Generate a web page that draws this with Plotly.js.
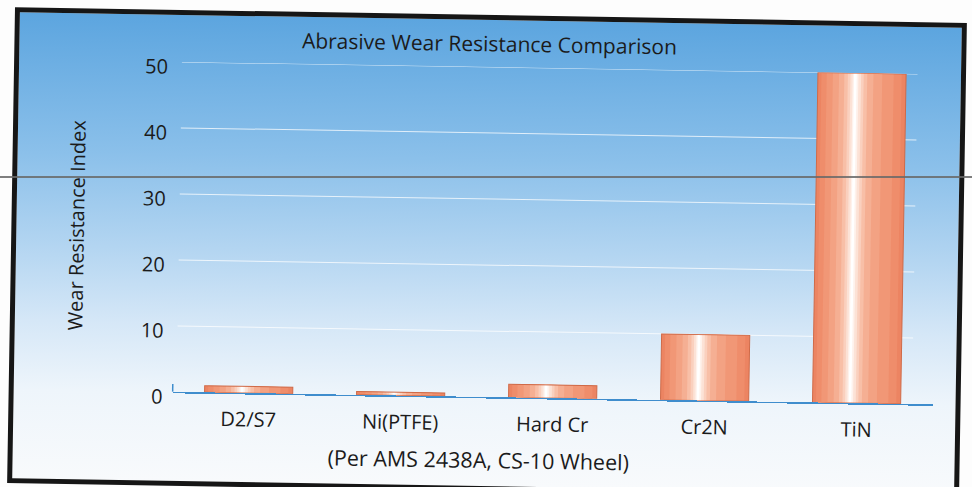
<!DOCTYPE html>
<html>
<head>
<meta charset="utf-8">
<script src="https://cdn.plot.ly/plotly-3.0.1.min.js"></script>
<style>
  html, body { margin:0; padding:0; background:#fdfdfd; width:972px; height:487px; overflow:hidden; }
  #wrap { position:absolute; left:0; top:0; width:972px; height:487px;
          transform-origin:487px 253px; transform:rotate(0.95deg); }
  #frame { position:absolute; left:11px; top:15px; width:952px; height:476px; box-sizing:border-box;
           border:5px solid #161616;
           background:linear-gradient(to bottom, #5CA5DF 0%, #8BC0EA 30%, #B3D5F1 50%, #D5E7F7 66%, #EEF5FB 81%, #F8FAFC 100%); }
  #chart { position:absolute; left:0; top:0; width:972px; height:487px; }
  #scan { position:absolute; left:0; top:176px; width:972px; height:2px; background:rgba(105,105,105,0.85); }
</style>
</head>
<body>
<div id="wrap">
  <div id="frame"></div>
  <div id="chart"></div>
</div>
<div id="scan"></div>
<script>
// ---- data ----
const categories = ['D2/S7', 'Ni(PTFE)', 'Hard Cr', 'Cr2N', 'TiN'];
const wearIndex = [1, 0.5, 2, 10, 50];
const yTickValues = [0, 10, 20, 30, 40, 50];
const chartTitle = 'Abrasive Wear Resistance Comparison';
const yTitle = 'Wear Resistance Index';
const xNote = '(Per AMS 2438A, CS-10 Wheel)';

// ---- cylinder-like shading built from overlaid bars ----
const barWidth = 0.58;
const shadeLayers = [
  [0.00, 1.00, '#EC8462'],
  [0.04, 0.95, '#EF8D6B'],
  [0.10, 0.86, '#F19776'],
  [0.17, 0.73, '#F3A283'],
  [0.24, 0.63, '#F5AF93'],
  [0.30, 0.56, '#F8BFA7'],
  [0.34, 0.52, '#FAD0BE'],
  [0.37, 0.49, '#FCE2D6'],
  [0.395, 0.46, '#FEF2EC'],
  [0.41, 0.44, '#FFFFFF']
];
const traces = shadeLayers.map(function (l) {
  return {
    type: 'bar', x: categories, y: wearIndex,
    width: (l[1] - l[0]) * barWidth,
    offset: -barWidth / 2 + l[0] * barWidth,
    marker: { color: l[2], line: { width: 0 } },
    hoverinfo: 'skip', showlegend: false
  };
});
traces.push({
  type: 'bar', x: categories, y: wearIndex, width: barWidth, offset: -barWidth / 2,
  marker: { color: 'rgba(0,0,0,0)', line: { color: '#CF6A48', width: 1 } },
  hoverinfo: 'skip', showlegend: false
});

const axisBlue = '#3F8DCD';
const shapes = yTickValues.filter(function (v) { return v > 0; }).map(function (v) {
  return { type: 'line', xref: 'paper', x0: 0.005, x1: 0.973, yref: 'y', y0: v, y1: v,
           line: { color: 'rgba(255,255,255,0.75)', width: 1 }, layer: 'below' };
});
shapes.push({ type: 'line', xref: 'paper', x0: 0, x1: 0, yref: 'y', y0: 0, y1: 1.2,
              line: { color: axisBlue, width: 1.5 } });

const font = 'Open Sans, Noto Sans, sans-serif';
const layout = {
  width: 972, height: 487,
  margin: { l: 175, r: 37, t: 66.5, b: 89.6 },
  paper_bgcolor: 'rgba(0,0,0,0)', plot_bgcolor: 'rgba(0,0,0,0)',
  barmode: 'overlay', showlegend: false,
  font: { family: font, color: '#1b1b1b', size: 20 },
  title: { text: chartTitle, font: { family: font, size: 21, color: '#1b1b1b' },
           x: 0.5, xref: 'container', xanchor: 'center', y: 1 - 44 / 487, yref: 'container', yanchor: 'middle' },
  xaxis: { type: 'category', range: [-0.5, 4.5], showgrid: false, zeroline: false,
           showline: true, linecolor: axisBlue, linewidth: 1.5, ticks: '', ticklabelstandoff: 8,
           tickfont: { family: font, size: 20, color: '#1b1b1b' }, fixedrange: true },
  yaxis: { range: [0, 50], tickvals: yTickValues, showgrid: false, zeroline: false,
           showline: false, ticks: '', ticklabelstandoff: 9, ticklabelshift: 5,
           tickfont: { family: font, size: 20, color: '#1b1b1b' },
           title: { text: yTitle, font: { family: font, size: 20, color: '#1b1b1b' }, standoff: 52 },
           fixedrange: true },
  shapes: shapes,
  annotations: [{ text: xNote, xref: 'paper', yref: 'paper', x: 0.403, y: -0.189,
                  xanchor: 'center', yanchor: 'middle', showarrow: false,
                  font: { family: font, size: 21.5, color: '#1b1b1b' } }]
};
Plotly.newPlot('chart', traces, layout, { staticPlot: true, displayModeBar: false });
</script>
</body>
</html>
